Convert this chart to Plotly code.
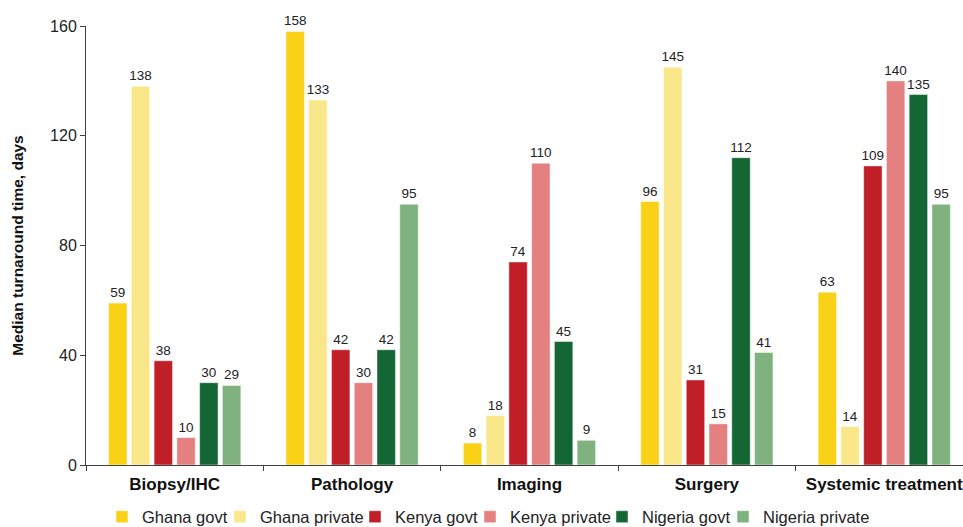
import plotly.graph_objects as go

# Diagnostic / treatment steps along the x axis
categories = ["Biopsy/IHC", "Pathology", "Imaging", "Surgery", "Systemic treatment"]

# Median turnaround time (days) per country and sector
ghana_govt = [59, 158, 8, 96, 63]
ghana_private = [138, 133, 18, 145, 14]
kenya_govt = [38, 42, 74, 31, 109]
kenya_private = [10, 30, 110, 15, 140]
nigeria_govt = [30, 42, 45, 112, 135]
nigeria_private = [29, 95, 9, 41, 95]

series = [
    ("Ghana govt", ghana_govt, "#F9D116"),
    ("Ghana private", ghana_private, "#F9E78A"),
    ("Kenya govt", kenya_govt, "#C01F28"),
    ("Kenya private", kenya_private, "#E48080"),
    ("Nigeria govt", nigeria_govt, "#146634"),
    ("Nigeria private", nigeria_private, "#7FB27F"),
]

# Left edge (px) of each legend entry in the row under the chart
legend_left_px = [102, 220, 355, 470, 602, 723]

W, H = 963, 527
FONT = "Liberation Sans, Arial, sans-serif"

fig = go.Figure()
legend_layout = {}
for i, (name, vals, color) in enumerate(series):
    key = "legend" if i == 0 else f"legend{i + 1}"
    fig.add_trace(go.Bar(
        name=name,
        x=categories,
        y=vals,
        marker=dict(color=color, line=dict(color="rgba(255,255,255,0.6)", width=0.8)),
        text=[str(v) for v in vals],
        textposition="outside",
        constraintext="none",
        textfont=dict(family=FONT, size=13.5, color="#222222"),
        cliponaxis=False,
        legend=key,
    ))
    legend_layout[key] = dict(
        orientation="h",
        xref="container",
        yref="container",
        x=legend_left_px[i] / W,
        xanchor="left",
        y=0.019,
        yanchor="middle",
        bgcolor="rgba(0,0,0,0)",
        font=dict(family=FONT, size=16.5, color="#222222"),
        itemwidth=30,
    )

fig.update_layout(
    width=W,
    height=H,
    barmode="group",
    bargap=0.23,
    bargroupgap=0.19,
    plot_bgcolor="white",
    paper_bgcolor="white",
    font=dict(family=FONT, color="#222222"),
    margin=dict(l=86, r=0, t=26, b=62, autoexpand=False),
    showlegend=True,
    **legend_layout,
)

fig.update_xaxes(
    range=[-0.5, 4.444],
    automargin=False,
    showline=True,
    linecolor="#404040",
    linewidth=1,
    ticks="outside",
    tickson="boundaries",
    ticklen=5,
    tickcolor="#404040",
    ticklabelstandoff=4,
    tickfont=dict(family=FONT, size=17, color="#111111", weight="bold"),
    showgrid=False,
)

fig.update_yaxes(
    range=[0, 160],
    automargin=False,
    tickvals=[0, 40, 80, 120, 160],
    showline=True,
    linecolor="#404040",
    linewidth=1,
    ticks="outside",
    ticklen=5,
    tickcolor="#404040",
    tickfont=dict(family=FONT, size=16, color="#222222"),
    showgrid=False,
    zeroline=False,
    title=dict(
        text="Median turnaround time, days",
        font=dict(family=FONT, size=15.5, color="#111111", weight="bold"),
        standoff=22,
    ),
)

fig.write_html("out.html")
